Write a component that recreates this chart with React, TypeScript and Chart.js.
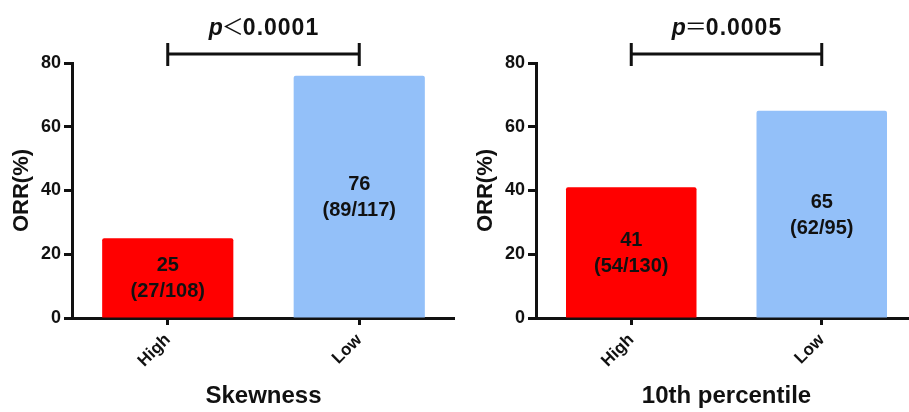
import React, { useEffect, useRef } from 'react';
import { Chart, registerables } from 'chart.js';

Chart.register(...registerables);

const FONT = '"Liberation Sans", Arial, "DejaVu Sans", sans-serif';
const CJK = '"Noto Sans CJK SC", "Noto Sans", sans-serif';

// ---- data ----
const categories = ['High', 'Low'];
const skewnessValues = [25, 76];
const skewnessCounts = ['(27/108)', '(89/117)'];
const percentileValues = [41, 65];
const percentileCounts = ['(54/130)', '(62/95)'];
const yMin = 0;
const yMax = 80;
const yStep = 20;
const panelTitles = ['Skewness', '10th percentile'];
const pSymbols = ['＜', '＝'];
const pNumbers = ['0.0001', '0.0005'];
const barColors = ['#FF0000', '#93C0F9'];
const yTitle = 'ORR(%)';

const annotatePlugin = {
  id: 'annot',
  afterDatasetsDraw(chart: any, _args: any, opts: any) {
    const ctx: CanvasRenderingContext2D = chart.ctx;
    const meta = chart.getDatasetMeta(0);
    ctx.save();
    ctx.fillStyle = '#111';
    ctx.textAlign = 'center';
    ctx.textBaseline = 'middle';
    ctx.font = `bold 20px ${FONT}`;
    meta.data.forEach((bar: any, i: number) => {
      const { x, y, base } = bar.getProps(['x', 'y', 'base'], true);
      const cy = (y + base) / 2;
      ctx.fillText(String(opts.values[i]), x, cy - 12);
      ctx.fillText(opts.counts[i], x, cy + 14);
    });

    // significance bracket
    const xs = chart.scales.x;
    const top = chart.chartArea.top;
    const x0 = xs.getPixelForValue(0);
    const x1 = xs.getPixelForValue(1);
    const by = top - 9;
    ctx.strokeStyle = '#111';
    ctx.lineWidth = 3;
    ctx.lineCap = 'butt';
    ctx.beginPath();
    ctx.moveTo(x0, by);
    ctx.lineTo(x1, by);
    ctx.moveTo(x0, by - 11);
    ctx.lineTo(x0, by + 12);
    ctx.moveTo(x1, by - 11);
    ctx.lineTo(x1, by + 12);
    ctx.stroke();

    // p value text
    const cx = (x0 + x1) / 2;
    const baseY = top - 28;
    ctx.textAlign = 'left';
    ctx.textBaseline = 'alphabetic';
    const fP = `italic bold 23px ${FONT}`;
    const fS = `22px ${CJK}`;
    const fN = `bold 23px ${FONT}`;
    const sp = 1;
    ctx.font = fP;
    const wP = ctx.measureText('p').width;
    ctx.font = fS;
    const wS = ctx.measureText(opts.pSym).width;
    ctx.font = fN;
    (ctx as any).letterSpacing = `${sp}px`;
    const wN = ctx.measureText(opts.pNum).width - sp;
    (ctx as any).letterSpacing = '0px';
    const total = wP + wS + wN - 2;
    let sx = cx - total / 2;
    ctx.font = fP;
    ctx.fillText('p', sx, baseY);
    sx += wP - 1;
    ctx.font = fS;
    ctx.fillText(opts.pSym, sx, baseY - 1);
    sx += wS - 1;
    ctx.font = fN;
    (ctx as any).letterSpacing = `${sp}px`;
    ctx.fillText(opts.pNum, sx, baseY);
    (ctx as any).letterSpacing = '0px';
    ctx.restore();
  },
};

interface PanelProps {
  values: number[];
  counts: string[];
  title: string;
  pSym: string;
  pNum: string;
  left: number;
  width: number;
  axisLeft: number;
}

function Panel({ values, counts, title, pSym, pNum, left, width, axisLeft }: PanelProps) {
  const ref = useRef<HTMLCanvasElement | null>(null);
  useEffect(() => {
    if (!ref.current) return;
    const chart = new Chart(ref.current, {
      type: 'bar',
      data: {
        labels: categories,
        datasets: [
          {
            data: values,
            backgroundColor: barColors,
            borderWidth: 0,
            borderRadius: 2,
            borderSkipped: 'bottom',
            barPercentage: 0.685,
            categoryPercentage: 1,
          },
        ],
      },
      options: {
        responsive: false,
        animation: false,
        devicePixelRatio: 1,
        layout: { padding: { left: axisLeft - 72, top: 63, right: 0, bottom: 0 } },
        plugins: {
          legend: { display: false },
          tooltip: { enabled: false },
          annot: { values, counts, pSym, pNum },
        } as any,
        scales: {
          x: {
            offset: true,
            afterFit: (s: any) => {
              s.height = 94;
            },
            grid: {
              offset: false,
              drawOnChartArea: false,
              drawTicks: true,
              tickLength: 7,
              tickWidth: 3,
              tickColor: '#111',
              color: '#111',
            },
            border: { display: true, width: 3, color: '#111' },
            ticks: {
              color: '#111',
              font: { family: FONT, size: 17, weight: 'bold' },
              minRotation: 45,
              maxRotation: 45,
              padding: 5,
            },
            title: {
              display: true,
              text: title,
              color: '#111',
              font: { family: FONT, size: 24, weight: 'bold' },
              padding: { top: 0, bottom: 1 },
            },
          },
          y: {
            min: yMin,
            max: yMax,
            afterFit: (s: any) => {
              s.width = 72;
            },
            grid: {
              drawOnChartArea: false,
              drawTicks: true,
              tickLength: 8,
              tickWidth: 3,
              tickColor: '#111',
              color: '#111',
            },
            border: { display: true, width: 3, color: '#111' },
            ticks: {
              stepSize: yStep,
              color: '#111',
              font: { family: FONT, size: 18, weight: 'bold' },
              padding: 3,
            },
            title: {
              display: true,
              text: yTitle,
              color: '#111',
              font: { family: FONT, size: 22, weight: 'bold' },
              padding: { top: 9, bottom: 0 },
            },
          },
        },
      } as any,
      plugins: [annotatePlugin],
    });
    return () => chart.destroy();
  }, []);
  return (
    <canvas
      ref={ref}
      width={width}
      height={412}
      style={{ position: 'absolute', left, top: 0, width, height: 412 }}
    />
  );
}

export default function App() {
  return (
    <div
      style={{
        position: 'absolute',
        left: 0,
        top: 0,
        width: 909,
        height: 412,
        overflow: 'hidden',
        background: '#fff',
      }}
    >
      <Panel
        values={skewnessValues}
        counts={skewnessCounts}
        title={panelTitles[0]}
        pSym={pSymbols[0]}
        pNum={pNumbers[0]}
        left={0}
        width={455}
        axisLeft={72}
      />
      <Panel
        values={percentileValues}
        counts={percentileCounts}
        title={panelTitles[1]}
        pSym={pSymbols[1]}
        pNum={pNumbers[1]}
        left={455}
        width={462}
        axisLeft={81}
      />
    </div>
  );
}
